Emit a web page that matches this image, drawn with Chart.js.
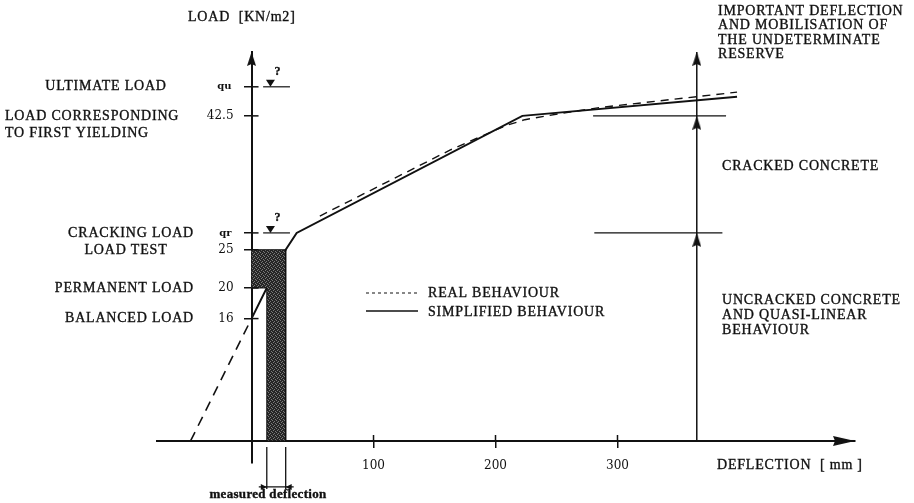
<!DOCTYPE html>
<html>
<head>
<meta charset="utf-8">
<script src="https://cdn.jsdelivr.net/npm/chart.js@4.4.1/dist/chart.umd.min.js"></script>
<style>
  html, body { margin: 0; padding: 0; background: #fff; }
  canvas { display: block; }
</style>
</head>
<body>
<canvas id="loadChart" width="914" height="503"></canvas>
<script>
// load / deflection diagram — schematic slab behaviour

// axes
const xRange = [-77.5, 494.7];
const yRange = [-2.88, 50.85];
const xTickValues = [100, 200, 300];
const xTickLabels = ['100', '200', '300'];
const yTickValues = [16, 20, 25, 27.2, 42.5, 46.3];
const yTickLabels = ['16', '20', '25', 'qr', '42.5', 'qu'];

// simplified behaviour (solid line)
const simplifiedDeflection = [0, 28, 37, 222, 398];
const simplifiedLoad = [16, 25, 27.2, 42.5, 45];

// extension of the first branch down to the deflection axis (long dashes)
const balancedDeflection = [-50, 0];
const balancedLoad = [0, 16];

// real behaviour (dashed)
const realDeflection = [56, 163, 208, 224, 253, 286, 398];
const realLoad = [29.4, 38.05, 41.2, 42.0, 42.8, 43.6, 45.6];

// measured deflection under the load test (shaded)
const testDeflection = [0, 28, 28, 12.5, 12.5, 0];
const testLoad = [25, 25, 0, 0, 20, 20];

// behaviour zones on the right
const zoneDeflection = 365;
const zoneLimitLoads = [27.2, 42.5];
const zoneLineStart = [281, 280];
const zoneLineEnd = [386, 389];

const INK = '#111';
const SERIF = '"Liberation Serif", "Times New Roman", serif';
const isQ = i => (yTickLabels[i] || '')[0] === 'q';

function pts(xs, ys) {
  return xs.map((x, i) => ({ x: x, y: ys[i] }));
}

// narrow arrow head, tip at the centre of the image, pointing up
function arrowHead(len, width) {
  const c = document.createElement('canvas');
  c.width = width;
  c.height = len * 2;
  const g = c.getContext('2d');
  g.fillStyle = INK;
  g.beginPath();
  g.moveTo(width / 2, len);
  g.lineTo(width, len * 2);
  g.lineTo(width / 2, len * 2 - 2);
  g.lineTo(0, len * 2);
  g.closePath();
  g.fill();
  return c;
}

// speckled dark fill like the scanned hatching
function stipple() {
  const c = document.createElement('canvas');
  c.width = 4; c.height = 4;
  const g = c.getContext('2d');
  g.fillStyle = '#262626';
  g.fillRect(0, 0, 4, 4);
  g.fillStyle = '#7a7a7a';
  [[0, 0], [2, 1], [1, 2], [3, 3]].forEach(([a, b]) => g.fillRect(a, b, 1, 1));
  return g.createPattern(c, 'repeat');
}

const upHead = arrowHead(14, 9);
const axisHead = arrowHead(22, 10);

const zoneLines = zoneLimitLoads.map((load, i) => ({
  type: 'line',
  data: [{ x: zoneLineStart[i], y: load }, { x: zoneLineEnd[i], y: load }],
  borderColor: INK, borderWidth: 1.3, pointRadius: 0
}));

const arrowPoints = [
  { x: zoneDeflection, y: zoneLimitLoads[0] },
  { x: zoneDeflection, y: zoneLimitLoads[1] },
  { x: zoneDeflection, y: yRange[1] },
  { x: 0, y: yRange[1] },
  { x: xRange[1], y: 0 }
];

function text(ctx, str, x, y, align, font, spacing) {
  ctx.font = font || ('14px ' + SERIF);
  ctx.letterSpacing = spacing === undefined ? '0.8px' : spacing;
  ctx.textAlign = align || 'left';
  ctx.textBaseline = 'middle';
  ctx.fillStyle = INK;
  ctx.strokeStyle = INK;
  ctx.lineWidth = 0.35;
  ctx.fillText(str, x, y);
  ctx.strokeText(str, x, y);   // a bit heavier, like the scan
  ctx.letterSpacing = '0px';
}

function line(ctx, x1, y1, x2, y2, w, dash) {
  ctx.save();
  ctx.strokeStyle = INK;
  ctx.lineWidth = w || 1.3;
  ctx.setLineDash(dash || []);
  ctx.beginPath();
  ctx.moveTo(x1, y1);
  ctx.lineTo(x2, y2);
  ctx.stroke();
  ctx.restore();
}

function tri(ctx, x1, y1, x2, y2, x3, y3) {
  ctx.fillStyle = INK;
  ctx.beginPath();
  ctx.moveTo(x1, y1); ctx.lineTo(x2, y2); ctx.lineTo(x3, y3);
  ctx.closePath();
  ctx.fill();
}

const annotations = {
  id: 'annotations',
  afterDraw(chart) {
    const ctx = chart.ctx;
    const xs = chart.scales.x, ys = chart.scales.y;
    const x0 = xs.getPixelForValue(0), y0 = ys.getPixelForValue(0);
    const yAt = v => ys.getPixelForValue(v);
    ctx.save();

    // tick marks crossing the axes
    yTickValues.forEach(v => line(ctx, x0, yAt(v), x0 + 7, yAt(v), 1.5));
    xTickValues.forEach(v => line(ctx, xs.getPixelForValue(v), y0, xs.getPixelForValue(v), y0 - 6, 1.5));

    // unknown qu / qr markers
    [yTickValues[5], yTickValues[3]].forEach(v => {
      const y = yAt(v);
      const xa = xs.getPixelForValue(9.5), xb = xs.getPixelForValue(31.5);
      const xm = xs.getPixelForValue(15.5);
      line(ctx, xa, y, xb, y, 1.2);
      tri(ctx, xm - 4.5, y - 7, xm + 4.5, y - 7, xm, y);
      text(ctx, '?', xm + 7, y - 15, 'center', 'bold 12px ' + SERIF, '0px');
    });

    // names of the load levels
    text(ctx, 'ULTIMATE LOAD', 106, yAt(yTickValues[5]), 'center');
    text(ctx, 'LOAD CORRESPONDING', 5, yAt(yTickValues[4]), 'left');
    text(ctx, 'TO FIRST YIELDING', 5, yAt(yTickValues[4]) + 17, 'left');
    text(ctx, 'CRACKING LOAD', 194, yAt(yTickValues[3]), 'right');
    text(ctx, 'LOAD TEST', 126, yAt(yTickValues[2]) + 1, 'center');
    text(ctx, 'PERMANENT LOAD', 194, yAt(yTickValues[1]), 'right');
    text(ctx, 'BALANCED LOAD', 194, yAt(yTickValues[0]), 'right');

    // axis titles
    text(ctx, 'LOAD  [KN/m2]', 188, 17, 'left');
    text(ctx, 'DEFLECTION  [ mm ]', 717, 465, 'left');

    // zone descriptions
    ['IMPORTANT DEFLECTION', 'AND MOBILISATION OF', 'THE UNDETERMINATE', 'RESERVE']
      .forEach((s, i) => text(ctx, s, 718, 11 + i * 14.5, 'left'));
    text(ctx, 'CRACKED CONCRETE', 722, 166, 'left');
    ['UNCRACKED CONCRETE', 'AND QUASI-LINEAR', 'BEHAVIOUR']
      .forEach((s, i) => text(ctx, s, 722, 300 + i * 15, 'left'));

    // legend
    line(ctx, 366, 293, 418, 293, 1, [3, 3]);
    text(ctx, 'REAL BEHAVIOUR', 428, 293, 'left');
    line(ctx, 366, 311, 418, 311, 1.5);
    text(ctx, 'SIMPLIFIED BEHAVIOUR', 428, 312, 'left');

    // measured deflection dimension
    const xa = xs.getPixelForValue(testDeflection[3]), xb = xs.getPixelForValue(testDeflection[1]);
    line(ctx, xa, y0 + 6, xa, y0 + 48, 1.3);
    line(ctx, xb, y0 + 6, xb, y0 + 48, 1.3);
    line(ctx, xa - 8, y0 + 46, xb + 8, y0 + 46, 1.2);
    tri(ctx, xa, y0 + 46, xa - 6, y0 + 43, xa - 6, y0 + 49);
    tri(ctx, xb, y0 + 46, xb + 6, y0 + 43, xb + 6, y0 + 49);
    text(ctx, 'measured deflection', 268, 495, 'center', 'bold 13px ' + SERIF, '0.3px');

    ctx.restore();
  }
};

new Chart(document.getElementById('loadChart'), {
  type: 'line',
  data: {
    datasets: [
      {
        data: pts(testDeflection, testLoad),
        fill: 'shape', backgroundColor: stipple(),
        borderColor: INK, borderWidth: 1, pointRadius: 0
      },
      {
        data: pts(balancedDeflection, balancedLoad),
        borderColor: INK, borderWidth: 1.6, borderDash: [10, 7], pointRadius: 0
      },
      {
        data: pts(simplifiedDeflection, simplifiedLoad),
        borderColor: INK, borderWidth: 2, pointRadius: 0
      },
      {
        data: pts(realDeflection, realLoad),
        borderColor: INK, borderWidth: 1.4, borderDash: [8, 6], pointRadius: 0
      },
      ...zoneLines,
      {
        data: [{ x: zoneDeflection, y: 0 }, { x: zoneDeflection, y: yRange[1] }],
        borderColor: INK, borderWidth: 1.5, pointRadius: 0
      },
      {
        data: arrowPoints,
        showLine: false, clip: false,
        pointRadius: 6,
        pointStyle: [upHead, upHead, upHead, upHead, axisHead],
        rotation: [0, 0, 0, 0, 90]
      }
    ]
  },
  options: {
    responsive: false,
    animation: false,
    events: [],
    layout: { padding: { left: 157, right: 59, top: 52, bottom: 40 } },
    plugins: { legend: { display: false }, tooltip: { enabled: false } },
    elements: { line: { tension: 0 } },
    scales: {
      x: {
        type: 'linear',
        position: { y: 0 },
        min: xRange[0], max: xRange[1],
        afterFit: s => { s.height = 0; },
        afterBuildTicks: s => { s.ticks = xTickValues.map(v => ({ value: v })); },
        border: { display: true, color: INK, width: 2 },
        grid: { drawOnChartArea: false, drawTicks: true, tickLength: 6, color: INK, lineWidth: 1.5 },
        ticks: {
          autoSkip: false, maxRotation: 0, padding: 12, color: INK,
          font: { family: '"DejaVu Serif", serif', size: 12 },
          callback: (v, i) => xTickLabels[i]
        }
      },
      y: {
        type: 'linear',
        position: { x: 0 },
        min: yRange[0], max: yRange[1],
        afterFit: s => { s.width = 0; },
        afterBuildTicks: s => { s.ticks = yTickValues.map(v => ({ value: v })); },
        border: { display: true, color: INK, width: 2 },
        grid: { drawOnChartArea: false, drawTicks: true, tickLength: 7, color: INK, lineWidth: 1.5 },
        ticks: {
          autoSkip: false, padding: 8, color: INK,
          font: ctx => ({
            family: '"DejaVu Serif", serif',
            size: isQ(ctx.index) ? 10 : 12,
            weight: isQ(ctx.index) ? 'bold' : 'normal'
          }),
          // labels are right-aligned on the axis line itself, the spaces keep them clear of it
          callback: (v, i) => yTickLabels[i] + (isQ(i) ? '\u2003\u2003' : '\u2003\u2002')
        }
      }
    }
  },
  plugins: [annotations]
});
</script>
</body>
</html>
